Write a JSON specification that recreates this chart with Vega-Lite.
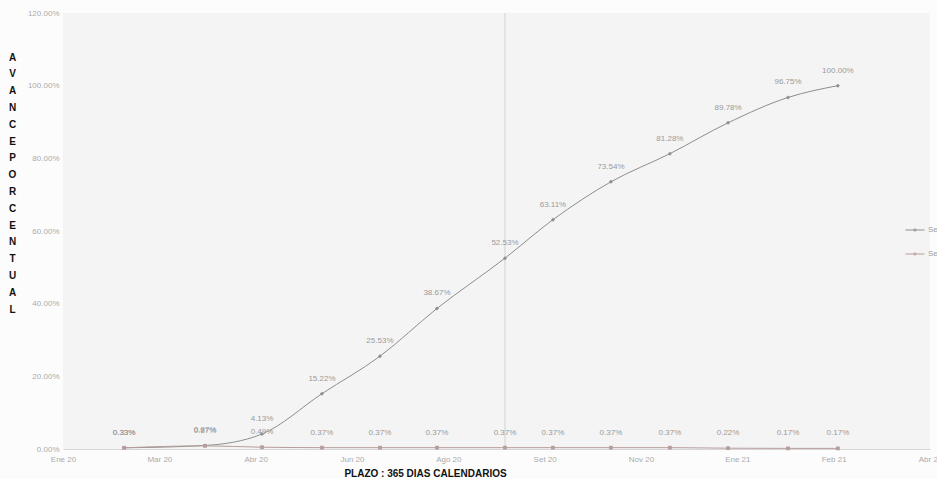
{
  "$schema": "https://vega.github.io/schema/vega-lite/v6.json",
  "width": 867,
  "height": 436,
  "autosize": "none",
  "padding": {"left": 63, "top": 13, "right": 7, "bottom": 30},
  "background": "#fcfcfc",
  "config": {
    "view": {"fill": "#f4f4f4", "stroke": null},
    "font": "Liberation Sans"
  },
  "datasets": {
    "avance": [
      {"dia": 31.7, "serie": "Serie1", "valor": 0.0033},
      {"dia": 73.7, "serie": "Serie1", "valor": 0.0097},
      {"dia": 103.3, "serie": "Serie1", "valor": 0.0413},
      {"dia": 134.4, "serie": "Serie1", "valor": 0.1522},
      {"dia": 164.5, "serie": "Serie1", "valor": 0.2553},
      {"dia": 194.1, "serie": "Serie1", "valor": 0.3867},
      {"dia": 229.4, "serie": "Serie1", "valor": 0.5253},
      {"dia": 254.3, "serie": "Serie1", "valor": 0.6311},
      {"dia": 284.4, "serie": "Serie1", "valor": 0.7354},
      {"dia": 315.0, "serie": "Serie1", "valor": 0.8128},
      {"dia": 345.2, "serie": "Serie1", "valor": 0.8978},
      {"dia": 376.3, "serie": "Serie1", "valor": 0.9675},
      {"dia": 402.2, "serie": "Serie1", "valor": 1.0},
      {"dia": 31.7, "serie": "Serie2", "valor": 0.0033},
      {"dia": 73.7, "serie": "Serie2", "valor": 0.0087},
      {"dia": 103.3, "serie": "Serie2", "valor": 0.0049},
      {"dia": 134.4, "serie": "Serie2", "valor": 0.0037},
      {"dia": 164.5, "serie": "Serie2", "valor": 0.0037},
      {"dia": 194.1, "serie": "Serie2", "valor": 0.0037},
      {"dia": 229.4, "serie": "Serie2", "valor": 0.0037},
      {"dia": 254.3, "serie": "Serie2", "valor": 0.0037},
      {"dia": 284.4, "serie": "Serie2", "valor": 0.0037},
      {"dia": 315.0, "serie": "Serie2", "valor": 0.0037},
      {"dia": 345.2, "serie": "Serie2", "valor": 0.0022},
      {"dia": 376.3, "serie": "Serie2", "valor": 0.0017},
      {"dia": 402.2, "serie": "Serie2", "valor": 0.0017}
    ],
    "corte": [{"dia": 229.4}]
  },
  "encoding": {
    "x": {
      "field": "dia",
      "type": "quantitative",
      "scale": {"domain": [0, 450], "nice": false},
      "axis": {
        "values": [0, 50, 100, 150, 200, 250, 300, 350, 400, 450],
        "labelExpr": "['Ene 20','Mar 20','Abr 20','Jun 20','Ago 20','Set 20','Nov 20','Ene 21','Feb 21','Abr 21'][round(datum.value / 50)]",
        "grid": false,
        "ticks": false,
        "domainColor": "#d6d6d6",
        "labelColor": "#ababab",
        "labelFontSize": 8,
        "labelPadding": 6,
        "labelFlush": false,
        "title": "PLAZO : 365 DIAS CALENDARIOS",
        "titleFont": "Liberation Sans",
        "titleFontWeight": "bold",
        "titleFontSize": 10,
        "titleColor": "#111111",
        "titleAnchor": "start",
        "titleAlign": "center",
        "titleBaseline": "middle",
        "titleX": 362,
        "titleY": 24
      }
    }
  },
  "layer": [
    {
      "data": {"name": "corte"},
      "mark": {"type": "rule", "color": "#d2d2d2", "strokeWidth": 1},
      "encoding": {}
    },
    {
      "data": {"name": "avance"},
      "mark": {"type": "line", "interpolate": "monotone", "strokeWidth": 1},
      "encoding": {
        "y": {
          "field": "valor",
          "type": "quantitative",
          "scale": {"domain": [0, 1.2], "nice": false},
          "axis": {
            "values": [0, 0.2, 0.4, 0.6, 0.8, 1.0, 1.2],
            "format": ".2%",
            "grid": false,
            "ticks": false,
            "domain": false,
            "labelColor": "#ababab",
            "labelFontSize": 8,
            "labelPadding": 4,
            "title": ["A", "V", "A", "N", "C", "E", " ", "P", "O", "R", "C", "E", "N", "T", "U", "A", "L"],
            "titleAngle": 0,
            "titleAlign": "center",
            "titleBaseline": "top",
            "titleFontWeight": "bold",
            "titleFontSize": 10,
            "titleLineHeight": 16.8,
            "titleColor": "#111111",
            "titleX": -51,
            "titleY": 39
          }
        },
        "color": {
          "field": "serie",
          "type": "nominal",
          "scale": {"domain": ["Serie1", "Serie2"], "range": ["#8e8e8e", "#b79c9c"]},
          "legend": {
            "title": null,
            "orient": "none",
            "legendX": 842,
            "legendY": 207,
            "symbolType": "M-1,0H1M-0.15,0L0,-0.15L0.15,0L0,0.15Z",
            "symbolSize": 360,
            "symbolStrokeWidth": 1,
            "rowPadding": 10,
            "labelFontSize": 8,
            "labelOffset": 3,
            "labelColor": "#a0a0a0"
          }
        }
      }
    },
    {
      "data": {"name": "avance"},
      "transform": [{"filter": "datum.serie === 'Serie1'"}],
      "mark": {"type": "point", "filled": true, "size": 16, "shape": "diamond", "color": "#8e8e8e", "opacity": 1},
      "encoding": {"y": {"field": "valor", "type": "quantitative"}}
    },
    {
      "data": {"name": "avance"},
      "transform": [{"filter": "datum.serie === 'Serie2'"}],
      "mark": {"type": "point", "filled": true, "size": 14, "shape": "square", "color": "#b79c9c", "opacity": 1},
      "encoding": {"y": {"field": "valor", "type": "quantitative"}}
    },
    {
      "data": {"name": "avance"},
      "mark": {"type": "text", "dy": -15, "fontSize": 8, "color": "#9a9a9a"},
      "encoding": {
        "y": {"field": "valor", "type": "quantitative"},
        "text": {"field": "valor", "type": "quantitative", "format": ".2%"}
      }
    }
  ]
}
